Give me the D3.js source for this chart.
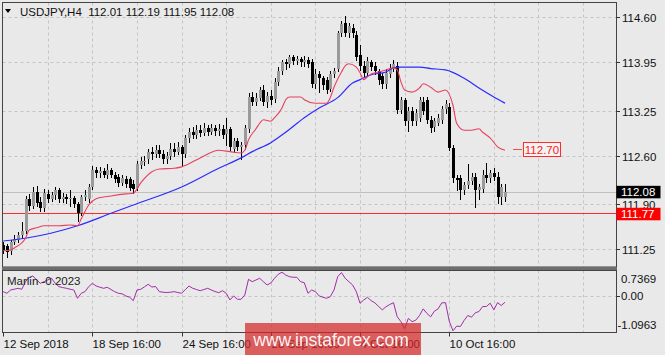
<!DOCTYPE html>
<html><head><meta charset="utf-8">
<script src="https://cdn.jsdelivr.net/npm/d3@7"></script>
<style>
body{margin:0;background:#e9e9e9;}
svg{display:block;font-family:"Liberation Sans",Arial,sans-serif;}
</style></head><body>
<svg id="c" width="665" height="355"></svg>
<script>
const symbol = "USDJPY,H4";
const lastOHLC = [112.01, 112.19, 111.95, 112.08];
const timeLabels = ["12 Sep 2018","18 Sep 16:00","24 Sep 16:00","28 Sep 16:00","4 Oct 16:00","10 Oct 16:00"];
const timeLabelBars = [0, 24, 48, 72, 96, 120];
const priceTicks = [114.60, 113.95, 113.25, 112.60, 111.90, 111.25];
const marlinTicks = [0.7369, 0.00, -1.0963];
const marlinName = "Marlin -0.2023";
const bidPrice = 112.08;
const levelPrice = 111.77;
const maLabelPrice = 112.70;
const watermark = "www.instaforex.com";

// [open, high, low, close]
const candles = [
[111.31,111.35,111.20,111.24],[111.30,111.33,111.14,111.21],[111.22,111.38,111.18,111.35],[111.36,111.45,111.33,111.40],
[111.39,111.50,111.36,111.45],[111.45,111.64,111.41,111.52],[111.52,112.02,111.48,111.98],[111.98,112.05,111.82,111.88],
[111.88,112.15,111.85,112.08],[112.08,112.16,111.88,111.92],[111.93,112.00,111.80,111.84],[111.84,112.12,111.80,112.06],
[112.05,112.10,111.94,111.98],[111.98,112.08,111.95,112.04],[112.04,112.15,111.98,112.10],[112.10,112.14,111.94,111.97],
[111.97,112.06,111.93,112.00],[112.00,112.05,111.92,111.97],[111.97,112.10,111.88,111.99],[111.99,112.02,111.86,111.90],
[111.90,111.93,111.66,111.78],[111.78,112.03,111.75,112.00],[112.00,112.10,111.96,112.04],[111.98,112.20,111.93,112.15],
[112.15,112.45,112.12,112.40],[112.40,112.44,112.30,112.35],[112.35,112.44,112.30,112.38],[112.38,112.42,112.29,112.33],
[112.33,112.48,112.28,112.39],[112.39,112.43,112.29,112.33],[112.33,112.36,112.22,112.26],[112.30,112.34,112.17,112.21],
[112.21,112.33,112.18,112.28],[112.27,112.31,112.15,112.20],[112.26,112.30,112.10,112.14],[112.20,112.25,112.06,112.12],
[112.13,112.52,112.10,112.48],[112.47,112.58,112.42,112.52],[112.51,112.60,112.47,112.53],[112.55,112.70,112.50,112.65],
[112.65,112.72,112.55,112.62],[112.62,112.75,112.58,112.68],[112.68,112.76,112.58,112.63],[112.63,112.68,112.50,112.55],
[112.55,112.66,112.50,112.60],[112.60,112.78,112.56,112.70],[112.70,112.78,112.60,112.66],[112.66,112.80,112.62,112.72],
[112.72,112.76,112.45,112.62],[112.62,112.90,112.58,112.85],[112.85,113.00,112.80,112.95],[112.95,113.02,112.85,112.90],
[112.90,113.05,112.86,112.97],[112.97,113.04,112.88,112.93],[112.93,113.08,112.90,113.00],[113.00,113.05,112.90,112.95],
[112.95,113.06,112.92,113.00],[113.00,113.05,112.90,112.96],[112.96,113.06,112.90,112.99],[112.99,113.04,112.85,112.90],
[112.92,113.14,112.76,112.98],[112.98,113.01,112.68,112.72],[112.70,112.86,112.65,112.82],[112.82,112.86,112.68,112.73],
[112.73,112.80,112.55,112.75],[112.75,113.05,112.70,113.00],[112.98,113.50,112.95,113.45],[113.45,113.52,113.33,113.38],
[113.38,113.50,113.34,113.44],[113.44,113.60,113.40,113.55],[113.55,113.62,113.33,113.38],[113.38,113.52,113.30,113.47],
[113.47,113.55,113.35,113.40],[113.42,113.72,113.38,113.67],[113.67,113.88,113.62,113.83],[113.83,113.98,113.78,113.95],
[113.95,114.00,113.85,113.92],[113.92,114.06,113.88,114.02],[114.02,114.05,113.93,113.97],[113.97,114.04,113.92,114.00],
[114.00,114.03,113.90,113.95],[113.95,114.04,113.90,113.98],[113.98,114.02,113.88,113.93],[113.96,114.00,113.60,113.64],
[113.64,113.85,113.58,113.78],[113.78,113.82,113.52,113.72],[113.72,113.75,113.57,113.62],[113.70,113.74,113.50,113.55],
[113.57,113.82,113.53,113.78],[113.78,113.87,113.74,113.82],[113.85,114.40,113.82,114.37],[114.37,114.55,114.33,114.50],
[114.52,114.62,114.33,114.38],[114.38,114.52,114.32,114.48],[114.45,114.50,114.32,114.38],[114.35,114.40,113.98,114.03],
[114.05,114.20,113.84,113.90],[113.90,113.97,113.75,113.80],[113.80,114.02,113.76,113.97],[113.95,113.98,113.84,113.88],
[113.90,113.96,113.78,113.82],[113.82,113.85,113.64,113.70],[113.75,113.80,113.58,113.64],[113.64,113.86,113.58,113.80],
[113.78,113.92,113.74,113.86],[113.86,113.98,113.82,113.92],[113.90,113.95,113.22,113.26],[113.26,113.45,113.22,113.40],
[113.40,113.44,113.04,113.10],[113.10,113.30,112.96,113.25],[113.25,113.30,113.04,113.10],[113.10,113.28,113.05,113.22],
[113.15,113.45,113.10,113.40],[113.38,113.45,113.20,113.25],[113.40,113.45,113.08,113.12],[113.12,113.18,112.95,113.00],
[113.02,113.15,112.96,113.10],[113.08,113.20,113.04,113.14],[113.12,113.32,113.08,113.27],[113.27,113.40,113.22,113.35],
[113.30,113.36,112.68,112.71],[112.71,112.75,112.22,112.28],[112.28,112.33,112.10,112.25],[112.28,112.32,111.98,112.10],
[112.10,112.22,112.05,112.18],[112.18,112.48,112.14,112.24],[112.24,112.35,112.20,112.30],[112.30,112.35,111.86,112.10],
[112.10,112.20,111.98,112.15],[112.12,112.40,112.08,112.33],[112.33,112.50,112.22,112.28],[112.28,112.40,112.22,112.35],
[112.35,112.42,112.25,112.30],[112.30,112.36,111.92,112.00],[112.00,112.20,111.90,112.15],[112.01,112.19,111.95,112.08]
];

const redMaBars = [0,2,3,6,7,9,11,15,18,20,21,23,25,29,33,35,37,40,42,46,48,53,58,61,64,65,66,68,69,70,72,73,75,76,77,80,81,84,87,88,89,91,92,93,95,96,97,98,99,101,103,105,106,107,108,110,112,113,115,117,119,121,122,124,126,128,129,131,133,135];
const redMaVals = [111.23,111.24,111.27,111.41,111.53,111.56,111.59,111.59,111.60,111.59,111.69,111.89,111.98,112.02,112.05,112.06,112.21,112.37,112.41,112.42,112.44,112.57,112.68,112.66,112.64,112.68,112.83,112.99,113.07,113.12,113.10,113.15,113.29,113.41,113.45,113.45,113.41,113.36,113.36,113.44,113.59,113.81,113.90,113.93,113.88,113.80,113.70,113.74,113.78,113.81,113.84,113.87,113.84,113.67,113.55,113.52,113.58,113.64,113.59,113.52,113.55,113.33,113.07,112.97,112.97,112.99,112.94,112.86,112.73,112.68];

const blueMaBars = [0,6,20,29,35,48,58,64,67,72,76,81,85,90,94,96,99,103,105,107,112,115,119,124,128,132,135];
const blueMaVals = [111.37,111.41,111.59,111.77,111.89,112.15,112.42,112.57,112.66,112.79,112.94,113.15,113.29,113.44,113.65,113.70,113.77,113.81,113.87,113.88,113.88,113.86,113.84,113.72,113.58,113.45,113.36];

const marlin = [
0.115,0.067,0.166,0.19,0.217,0.187,0.416,0.548,0.587,0.467,0.367,0.416,0.467,0.518,0.367,0.266,0.24,0.217,0.19,0.166,
-0.083,0.067,0.116,0.266,0.367,0.286,0.25,0.217,0.247,0.18,0.116,0.067,0.05,-0.013,-0.05,-0.155,0.166,0.187,0.26,0.337,
0.256,0.27,0.116,0.10,0.09,0.10,0.116,0.09,0.067,0.18,0.286,0.217,0.18,0.145,0.18,0.217,0.166,0.12,0.085,0.145,
0.067,-0.134,-0.013,-0.113,-0.113,0.016,0.488,0.416,0.467,0.518,0.416,0.317,0.377,0.518,0.638,0.70,0.617,0.566,0.55,0.548,
0.416,0.386,0.067,0.166,0.116,-0.013,-0.05,-0.083,-0.035,0.166,0.566,0.69,0.518,0.416,0.317,0.116,-0.233,-0.134,-0.053,-0.155,
-0.22,-0.33,-0.43,-0.335,-0.27,-0.215,-0.635,-0.785,-1.0,-0.685,-0.785,-0.74,-0.60,-0.40,-0.54,-0.64,-0.47,-0.40,-0.22,-0.215,
-0.77,-1.06,-0.92,-0.93,-0.75,-0.60,-0.65,-0.52,-0.48,-0.33,-0.33,-0.23,-0.43,-0.215,-0.30,-0.2023
];

const svg = d3.select("#c");
const W = 665, H = 355;
const L = 2.5, R = 616.5, T = 2.5, B = 267;     // main panel
const IT = 270.5, IB = 332.5;                  // indicator panel

const x = d3.scaleLinear().domain([0, 165]).range([3.2, 3.2 + 165 * 3.717]);
const y = d3.scaleLinear().domain([111.25, 114.60]).range([249.3, 17.3]);
const ym = d3.scaleLinear().domain([-1.0963, 0.7369]).range([332, 271]);

svg.append("rect").attr("width", W).attr("height", H).attr("fill", "#e9e9e9");

const gridBars = d3.range(12, 160, 12);
const px = v => Math.round(v) + 0.5;

// grids main
const gMain = svg.append("g");
gMain.selectAll("line.v").data(gridBars).join("line")
  .attr("x1", d => px(x(d))).attr("x2", d => px(x(d))).attr("y1", T).attr("y2", B)
  .attr("stroke", "#c4c4c4").attr("stroke-dasharray", "3,3");
gMain.selectAll("line.h").data(priceTicks).join("line")
  .attr("x1", L).attr("x2", R).attr("y1", d => px(y(d))).attr("y2", d => px(y(d)))
  .attr("stroke", "#c4c4c4").attr("stroke-dasharray", "3,3");
// grids indicator
const gInd = svg.append("g");
gInd.selectAll("line.v").data(gridBars).join("line")
  .attr("x1", d => px(x(d))).attr("x2", d => px(x(d))).attr("y1", IT).attr("y2", IB)
  .attr("stroke", "#c4c4c4").attr("stroke-dasharray", "3,3");
gInd.append("line").attr("x1", L).attr("x2", R).attr("y1", px(ym(0))).attr("y2", px(ym(0)))
  .attr("stroke", "#c4c4c4").attr("stroke-dasharray", "3,3");

// bid line and level line
svg.append("line").attr("x1", L).attr("x2", R).attr("y1", px(y(bidPrice))).attr("y2", px(y(bidPrice)))
  .attr("stroke", "#c0c0c0");
svg.append("line").attr("x1", L).attr("x2", R).attr("y1", px(y(levelPrice))).attr("y2", px(y(levelPrice)))
  .attr("stroke", "#ff2a2a");

// candles
const gc = svg.append("g").attr("shape-rendering", "crispEdges");
candles.forEach((c, i) => {
  const [o, h, l, cl] = c;
  const cx = Math.round(x(i));
  const bull = cl >= o;
  gc.append("line").attr("x1", cx + 0.5).attr("x2", cx + 0.5)
    .attr("y1", Math.round(y(h))).attr("y2", Math.round(y(l)) + 1).attr("stroke", "#000");
  const yt = Math.round(y(Math.max(o, cl))), yb = Math.round(y(Math.min(o, cl)));
  gc.append("rect").attr("x", cx - 1).attr("y", yt).attr("width", 3).attr("height", Math.max(1, yb - yt))
    .attr("fill", bull ? "#9a9a9a" : "#000");
});

// moving averages
const lineGen = d3.line().curve(d3.curveMonotoneX);
svg.append("path")
  .attr("d", lineGen(blueMaBars.map((b, k) => [x(b), y(blueMaVals[k])])))
  .attr("fill", "none").attr("stroke", "#2b2bff").attr("stroke-width", 1.2);
svg.append("path")
  .attr("d", lineGen(redMaBars.map((b, k) => [x(b), y(redMaVals[k])])))
  .attr("fill", "none").attr("stroke", "#e8405e").attr("stroke-width", 1.1);

// MA label
const lastBar = candles.length - 1;
const yl = Math.round(y(maLabelPrice)) + 0.5;
svg.append("line").attr("x1", x(lastBar) + 8).attr("x2", x(lastBar) + 17).attr("y1", yl).attr("y2", yl)
  .attr("stroke", "#f05050");
svg.append("rect").attr("x", x(lastBar) + 18.5).attr("y", yl - 7).attr("width", 37).attr("height", 14)
  .attr("fill", "#f2f2f2").attr("stroke", "#ff2a2a");
svg.append("text").attr("x", x(lastBar) + 37).attr("y", yl + 4.5).attr("text-anchor", "middle")
  .attr("font-size", 11.5).attr("fill", "#ff2020").text(maLabelPrice.toFixed(2));

// marlin line
svg.append("path")
  .attr("d", d3.line()(marlin.map((v, i) => [x(i), ym(v)])))
  .attr("fill", "none").attr("stroke", "#a22ca8").attr("stroke-width", 1);

// panel borders
svg.append("rect").attr("x", L).attr("y", T).attr("width", R - L).attr("height", B - T)
  .attr("fill", "none").attr("stroke", "#444");
svg.append("rect").attr("x", L - 0.5).attr("y", B).attr("width", R - L + 1).attr("height", 3).attr("fill", "#6e6e6e");
svg.append("rect").attr("x", L).attr("y", IT).attr("width", R - L).attr("height", IB - IT)
  .attr("fill", "none").attr("stroke", "#444");

// title
svg.append("path").attr("d", "M5,9 L11,9 L8,13 Z").attr("fill", "#000");
svg.append("text").attr("x", 20).attr("y", 16).attr("font-size", 11.5).attr("fill", "#111")
  .attr("xml:space", "preserve")
  .text(symbol + "  " + lastOHLC.map(v => v.toFixed(2)).join(" "));

// indicator name
svg.append("text").attr("x", 7).attr("y", 285).attr("font-size", 11.5).attr("fill", "#222").text(marlinName);

// price axis
const gy = svg.append("g");
priceTicks.forEach(p => {
  const yy = px(y(p));
  gy.append("line").attr("x1", R).attr("x2", R + 3.5).attr("y1", yy).attr("y2", yy).attr("stroke", "#333");
  gy.append("text").attr("x", 622).attr("y", yy + 4).attr("font-size", 11.5).attr("fill", "#111").text(p.toFixed(2));
});
// bid box
const yb = y(bidPrice);
svg.append("rect").attr("x", R).attr("y", yb - 6).attr("width", 44).attr("height", 12.5).attr("fill", "#000");
svg.append("text").attr("x", 621).attr("y", yb + 4.5).attr("font-size", 11.5).attr("fill", "#fff").text(bidPrice.toFixed(2));
// level box
const ylv = y(levelPrice);
svg.append("rect").attr("x", R).attr("y", ylv - 5.5).attr("width", 44).attr("height", 12.5).attr("fill", "#ff0000");
svg.append("text").attr("x", 621).attr("y", ylv + 5).attr("font-size", 11.5).attr("fill", "#fff").text(levelPrice.toFixed(2));

// indicator axis
const mLabelY = [283, 300, 329];
marlinTicks.forEach((v, k) => {
  svg.append("text").attr("x", v < 0 ? 617.5 : 621).attr("y", mLabelY[k]).attr("font-size", 11.5).attr("fill", "#111")
    .text(v === 0 ? "0.00" : v.toFixed(4));
});
svg.append("line").attr("x1", R).attr("x2", R + 3.5).attr("y1", px(ym(0))).attr("y2", px(ym(0))).attr("stroke", "#333");

// time axis
timeLabelBars.forEach((b, k) => {
  const xx = px(x(b));
  svg.append("line").attr("x1", xx).attr("x2", xx).attr("y1", IB).attr("y2", IB + 4).attr("stroke", "#333");
  svg.append("text").attr("x", xx).attr("y", 347.5).attr("font-size", 11.5).attr("fill", "#111").text(timeLabels[k]);
});

// watermark
svg.append("rect").attr("x", 245).attr("y", 323).attr("width", 176).attr("height", 32)
  .attr("fill", "rgb(214,40,40)").attr("fill-opacity", 0.72);
svg.append("text").attr("x", 331).attr("y", 345.5).attr("text-anchor", "middle")
  .attr("font-size", 17.5).attr("fill", "#ffffff").attr("fill-opacity", 0.95).text(watermark);
</script>
</body></html>
